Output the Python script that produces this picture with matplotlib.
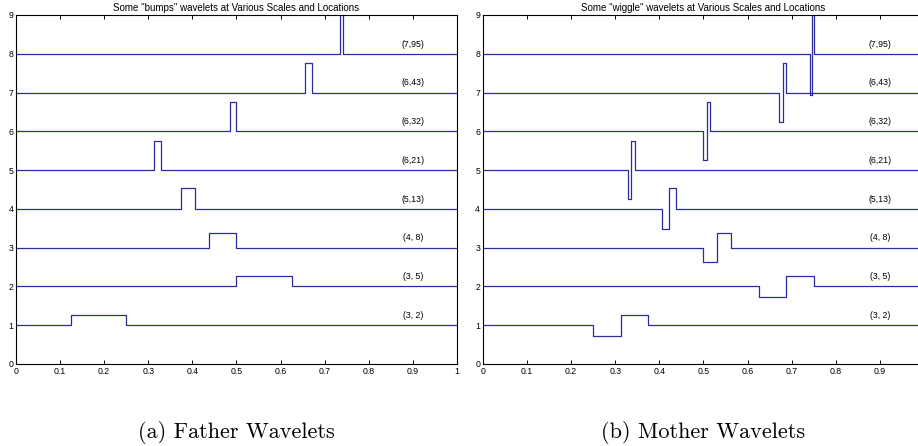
import matplotlib.pyplot as plt

# wavelet (j,k) labels, bottom to top
labels = ["(3, 2)", "(3, 5)", "(4, 8)", "(5,13)", "(6,21)", "(6,32)", "(6,43)", "(7,95)"]
levels = [1, 2, 3, 4, 5, 6, 7, 8]

# father ("bumps"): box from lo to hi
father_lo = [0.125, 0.5, 0.4375, 0.375, 0.3125, 0.484375, 0.65625, 0.734375]
father_hi = [0.25, 0.625, 0.5, 0.40625, 0.328125, 0.5, 0.671875, 0.7421875]

# mother ("wiggle"): down from lo to mid, up from mid to hi
mother_lo = [0.25, 0.625, 0.5, 0.40625, 0.328125, 0.5, 0.671875, 0.7421875]
mother_mid = [0.3125, 0.6875, 0.53125, 0.421875, 0.3359375, 0.5078125, 0.6796875, 0.74609375]
mother_hi = [0.375, 0.75, 0.5625, 0.4375, 0.34375, 0.515625, 0.6875, 0.75]

heights = [0.27, 0.27, 0.38, 0.53, 0.75, 0.75, 0.75, 1.06]

xtick_vals = [0, 0.1, 0.2, 0.3, 0.4, 0.5, 0.6, 0.7, 0.8, 0.9, 1]
xtick_labs = ["0", "0.1", "0.2", "0.3", "0.4", "0.5", "0.6", "0.7", "0.8", "0.9", "1"]

line_col = "#2b2b9e"
plt.rcParams['font.family'] = ['Liberation Sans', 'DejaVu Sans']

fig = plt.figure(figsize=(9.18, 4.46), dpi=100)
axL = fig.add_axes([0.0174, 0.1839, 0.4804, 0.7825])
axR = fig.add_axes([0.5261, 0.1839, 0.4804, 0.7825])

for i in range(len(labels)):
    b = levels[i]
    h = heights[i]
    # father box
    xs = [0, father_lo[i], father_lo[i], father_hi[i], father_hi[i], 1]
    ys = [b, b, b + h, b + h, b, b]
    axL.plot(xs, ys, color=line_col, lw=0.9)
    # mother wiggle
    xs = [0, mother_lo[i], mother_lo[i], mother_mid[i], mother_mid[i], mother_hi[i], mother_hi[i], 1]
    ys = [b, b, b - h, b - h, b + h, b + h, b, b]
    axR.plot(xs, ys, color=line_col, lw=0.9)
    for ax in (axL, axR):
        ax.text(0.9, b + 0.25, labels[i], ha='center', va='center', fontsize=6.3)

titles = ['Some "bumps" wavelets at Various Scales and Locations',
          'Some "wiggle" wavelets at Various Scales and Locations']
captions = ["(a) Father Wavelets", "(b) Mother Wavelets"]

for n, (ax, t, c) in enumerate(zip((axL, axR), titles, captions)):
    ax.set_xlim(0, 1)
    ax.set_ylim(0, 9)
    ax.set_xticks(xtick_vals)
    # right panel runs past the figure edge, its last label is not shown
    ax.set_xticklabels(xtick_labs if n == 0 else xtick_labs[:-1] + [""])
    ax.set_yticks(range(10))
    ax.tick_params(direction='in', length=3, width=0.7, top=True, right=True,
                   labelsize=6.3, pad=2)
    for s in ax.spines.values():
        s.set_linewidth(0.8)
    ax.set_title(t, fontsize=7.0, pad=3)
    pos = ax.get_position()
    fig.text(pos.x0 + pos.width / 2, 0.031, c, ha='center', va='center',
             fontsize=16, family='cmr10')

fig.savefig("out.png", dpi=100)
